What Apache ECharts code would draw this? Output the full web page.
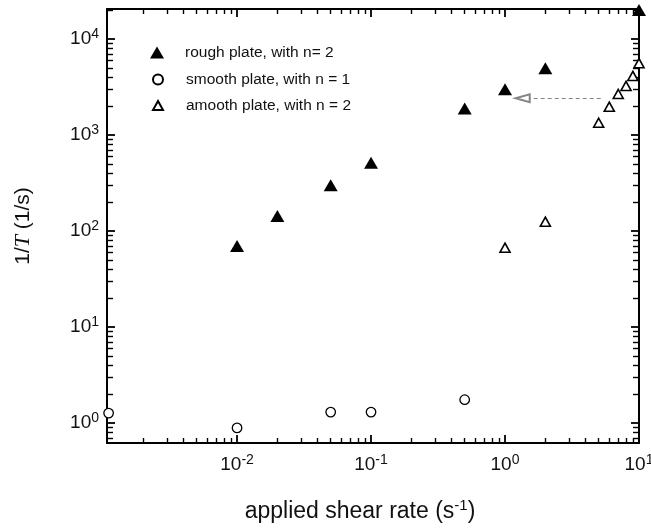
<!DOCTYPE html>
<html>
<head>
<meta charset="utf-8">
<script src="https://cdn.jsdelivr.net/npm/echarts@6/dist/echarts.min.js"></script>
<style>
  html, body { margin: 0; padding: 0; background: #fff; }
  #chart { width: 651px; height: 528px; }
</style>
</head>
<body>
<div id="chart"></div>
<script>
// Relaxation rate 1/T (1/s) against applied shear rate (1/s)
const roughShear = [0.01, 0.02, 0.05, 0.1, 0.5, 1, 2, 10];
const roughRate = [70, 143, 299, 514, 1890, 2990, 4950, 20000];

const smoothN1Shear = [0.0011, 0.01, 0.05, 0.1, 0.5];
const smoothN1Rate = [1.27, 0.89, 1.3, 1.3, 1.75];

const smoothN2Shear = [1, 2, 5, 6, 7, 8, 9, 10];
const smoothN2Rate = [67, 125, 1340, 1970, 2670, 3240, 4120, 5590];

const seriesNames = ['rough plate, with n= 2', 'smooth plate, with n = 1', 'amooth plate, with n = 2'];

// dashed shift arrow (start, end)
const arrowFrom = [5.18, 2410];
const arrowTo = [1.355, 2410];

// axis ranges and ticks
const xRange = [0.00107, 10];
const yRange = [0.62, 20500];
const xMajorTicks = [0.01, 0.1, 1, 10];
const yMajorTicks = [1, 10, 100, 1000, 10000];
const xDecades = [0.001, 0.01, 0.1, 1];
const yDecades = [0.1, 1, 10, 100, 1000, 10000];
const minorSteps = [2, 3, 4, 5, 6, 7, 8, 9];

const FONT = '"Liberation Sans", Arial, Helvetica, sans-serif';
const INK = '#111';

function minorTicks(decades, range) {
  const out = [];
  decades.forEach(d => minorSteps.forEach(k => {
    const v = parseFloat((k * d).toPrecision(6));
    if (v > range[0] && v < range[1]) out.push(v);
  }));
  return out;
}

const pow10Label = v => '{b|10}{s|' + Math.round(Math.log10(v)) + '}';
const tickRich = {
  b: { fontSize: 19, fontFamily: FONT, color: INK, lineHeight: 24 },
  s: { fontSize: 14, fontFamily: FONT, color: INK, lineHeight: 12, verticalAlign: 'top' }
};

function logAxis(range, position, ticks, tickLen, withLine, extra) {
  return Object.assign({
    type: 'log', logBase: 10, gridIndex: 0,
    min: range[0], max: range[1], position: position,
    axisLine: withLine ? { show: true, onZero: false, lineStyle: { color: '#000', width: 2 } } : { show: false },
    axisTick: { show: true, inside: true, length: tickLen, customValues: ticks,
                lineStyle: { color: '#000', width: tickLen > 6 ? 1.8 : 1.4 } },
    minorTick: { show: false },
    splitLine: { show: false },
    minorSplitLine: { show: false },
    axisLabel: { show: false },
    axisPointer: { show: false },
    silent: true
  }, extra || {});
}

const xMinor = minorTicks(xDecades, xRange);
const yMinor = minorTicks(yDecades, yRange);

const xAxes = [
  logAxis(xRange, 'bottom', xMajorTicks, 8, true, {
    axisLabel: { show: true, customValues: xMajorTicks, formatter: pow10Label,
                 margin: 10, fontSize: 19, rich: tickRich },
    name: '{a|applied shear rate (s}{s|-1}{a|)}',
    nameLocation: 'middle',
    nameGap: 55,
    nameTextStyle: {
      padding: [0, 26, 0, 0],
      rich: {
        a: { fontSize: 23, fontFamily: FONT, color: INK, lineHeight: 28 },
        s: { fontSize: 15, fontFamily: FONT, color: INK, lineHeight: 14, verticalAlign: 'top' }
      }
    }
  }),
  logAxis(xRange, 'top', xMajorTicks, 8, true),
  logAxis(xRange, 'bottom', xMinor, 5, false),
  logAxis(xRange, 'top', xMinor, 5, false)
];

const yAxes = [
  logAxis(yRange, 'left', yMajorTicks, 8, true, {
    axisLabel: { show: true, customValues: yMajorTicks, formatter: pow10Label,
                 margin: 8, fontSize: 19, rich: tickRich },
    name: '{a|1/}{t|T}{a| (1/s)}',
    nameLocation: 'middle',
    nameRotate: 90,
    nameGap: 72,
    nameTextStyle: {
      rich: {
        a: { fontSize: 21, fontFamily: FONT, color: INK, lineHeight: 24 },
        t: { fontSize: 22, fontFamily: '"Liberation Serif", "Times New Roman", serif',
             fontStyle: 'italic', color: INK, lineHeight: 24 }
      }
    }
  }),
  logAxis(yRange, 'right', yMajorTicks, 8, true),
  logAxis(yRange, 'left', yMinor, 6, false),
  logAxis(yRange, 'right', yMinor, 6, false)
];

const zip = (xs, ys) => xs.map((x, i) => [x, ys[i]]);

function legendFor(name, left, top, w, h, pad) {
  return {
    data: [name], selectedMode: false, orient: 'vertical',
    left: left, top: top, padding: 0,
    itemWidth: w, itemHeight: h,
    textStyle: { fontSize: 15.5, fontFamily: FONT, color: INK, padding: [0, 0, 0, pad] }
  };
}

const option = {
  animation: false,
  backgroundColor: '#fff',
  grid: { left: 107, right: 12, top: 9, bottom: 85, containLabel: false, outerBoundsMode: 'none' },
  legend: [
    legendFor(seriesNames[0], 150, 44.5, 14, 12, 16),
    legendFor(seriesNames[1], 152, 71.5, 10, 10, 18),
    legendFor(seriesNames[2], 152, 97.5, 10, 9, 18)
  ],
  xAxis: xAxes,
  yAxis: yAxes,
  series: [
    {
      name: seriesNames[0], type: 'scatter', xAxisIndex: 0, yAxisIndex: 0,
      symbol: 'triangle', symbolSize: [14, 12], clip: false, z: 5,
      itemStyle: { color: '#000', borderWidth: 0, opacity: 1 },
      data: zip(roughShear, roughRate)
    },
    {
      name: seriesNames[1], type: 'scatter', xAxisIndex: 0, yAxisIndex: 0,
      symbol: 'circle', symbolSize: 9.5, clip: false, z: 5,
      itemStyle: { color: '#fff', borderColor: '#000', borderWidth: 1.3, opacity: 1 },
      data: zip(smoothN1Shear, smoothN1Rate)
    },
    {
      name: seriesNames[2], type: 'scatter', xAxisIndex: 0, yAxisIndex: 0,
      symbol: 'triangle', symbolSize: [10, 9], clip: false, z: 5,
      itemStyle: { color: '#fff', borderColor: '#000', borderWidth: 1.6, opacity: 1 },
      data: zip(smoothN2Shear, smoothN2Rate),
      markLine: {
        silent: true, animation: false,
        symbol: ['none', 'emptyTriangle'], symbolSize: [8, 14],
        lineStyle: { color: '#858585', width: 1, type: [4, 3] },
        label: { show: false },
        emphasis: { disabled: true },
        data: [[{ coord: arrowFrom }, { coord: arrowTo }]]
      }
    }
  ]
};

const chart = echarts.init(document.getElementById('chart'), null, { renderer: 'canvas' });
chart.setOption(option);
</script>
</body>
</html>
